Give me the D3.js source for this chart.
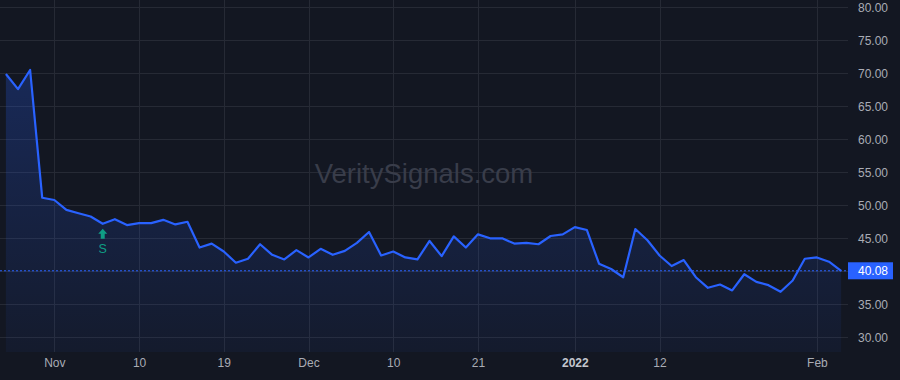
<!DOCTYPE html>
<html>
<head>
<meta charset="utf-8">
<script src="https://cdn.jsdelivr.net/npm/d3@7"></script>
<style>
html,body{margin:0;padding:0;background:#131722;}
svg{display:block;}
</style>
</head>
<body>
<svg id="chart" width="900" height="380"></svg>
<script>
const dates = [
"2021-10-26","2021-10-27","2021-10-28","2021-10-29",
"2021-11-01","2021-11-02","2021-11-03","2021-11-04","2021-11-05","2021-11-08","2021-11-09","2021-11-10","2021-11-11","2021-11-12","2021-11-15","2021-11-16","2021-11-17","2021-11-18","2021-11-19","2021-11-22","2021-11-23","2021-11-24","2021-11-26","2021-11-29","2021-11-30",
"2021-12-01","2021-12-02","2021-12-03","2021-12-06","2021-12-07","2021-12-08","2021-12-09","2021-12-10","2021-12-13","2021-12-14","2021-12-15","2021-12-16","2021-12-17","2021-12-20","2021-12-21","2021-12-22","2021-12-23","2021-12-27","2021-12-28","2021-12-29","2021-12-30","2021-12-31",
"2022-01-03","2022-01-04","2022-01-05","2022-01-06","2022-01-07","2022-01-10","2022-01-11","2022-01-12","2022-01-13","2022-01-14","2022-01-18","2022-01-19","2022-01-20","2022-01-21","2022-01-24","2022-01-25","2022-01-26","2022-01-27","2022-01-28","2022-01-31",
"2022-02-01","2022-02-02","2022-02-03"
];
const values = [
69.9,67.6,70.5,51.15,
50.8,49.3,48.8,48.3,47.2,47.9,47.0,47.3,47.3,47.8,47.1,47.5,43.6,44.2,43.0,41.3,41.9,44.1,42.5,41.8,43.2,
42.1,43.4,42.5,43.1,44.3,45.95,42.4,43.0,42.1,41.8,44.6,42.3,45.3,43.6,45.6,45.0,45.0,44.2,44.3,44.1,45.35,45.6,
46.7,46.25,41.15,40.35,39.1,46.4,44.7,42.4,40.8,41.7,39.1,37.5,38.0,37.1,39.55,38.4,37.9,36.9,38.6,41.9,
42.1,41.45,40.08
];
const tickDates = ["2021-11-01","2021-11-10","2021-11-19","2021-12-01","2021-12-10","2021-12-21","2022-01-03","2022-01-12","2022-02-01"];
const tickLabels = ["Nov","10","19","Dec","10","21","2022","12","Feb"];
const boldTicks = ["2022"];
const yTicks = [30,35,40,45,50,55,60,65,70,75,80];
const signalDates = ["2021-11-05"];
const signalLabels = ["S"];
const lastValue = 40.08;
const watermark = "VeritySignals.com";

const W = 900, H = 380;
const plotRight = 848, plotBottom = 352;
const svg = d3.select("#chart");
const font = "'Liberation Sans', Arial, sans-serif";

const x = d3.scalePoint().domain(dates).range([5.9, 841.1]);
const y = d3.scaleLinear().domain([30, 80]).range([337.3, 7.3]);

const defs = svg.append("defs");
const grad = defs.append("linearGradient").attr("id","areaGrad")
  .attr("gradientUnits","userSpaceOnUse").attr("x1",0).attr("y1",60).attr("x2",0).attr("y2",plotBottom);
grad.append("stop").attr("offset","0%").attr("stop-color","#2962ff").attr("stop-opacity",0.25);
grad.append("stop").attr("offset","100%").attr("stop-color","#2962ff").attr("stop-opacity",0.05);

// grid
const g = svg.append("g");
g.selectAll("line.h").data(yTicks).enter().append("line")
  .attr("x1",0).attr("x2",plotRight)
  .attr("y1",d=>Math.round(y(d))+0.5).attr("y2",d=>Math.round(y(d))+0.5)
  .attr("stroke","#262a35").attr("stroke-width",1);
g.selectAll("line.v").data(tickDates).enter().append("line")
  .attr("y1",0).attr("y2",plotBottom)
  .attr("x1",d=>Math.round(x(d))+0.5).attr("x2",d=>Math.round(x(d))+0.5)
  .attr("stroke","#262a35").attr("stroke-width",1);

// watermark
svg.append("text").attr("x",424).attr("y",183).attr("text-anchor","middle")
  .attr("font-family",font).attr("font-size",27.5).attr("fill","#393d4a").text(watermark);

// area + line
const data = dates.map((d,i)=>({d, v: values[i]}));
svg.append("path").datum(data)
  .attr("d", d3.area().x(p=>x(p.d)).y0(plotBottom).y1(p=>y(p.v)))
  .attr("fill","url(#areaGrad)");
svg.append("path").datum(data)
  .attr("d", d3.line().x(p=>x(p.d)).y(p=>y(p.v)))
  .attr("fill","none").attr("stroke","#2962ff").attr("stroke-width",2.2).attr("stroke-linejoin","round");

// last value dashed line
svg.append("line").attr("x1",0).attr("x2",plotRight)
  .attr("y1",y(lastValue)).attr("y2",y(lastValue))
  .attr("stroke","#2962ff").attr("stroke-width",1).attr("stroke-dasharray","2,2");

// signal markers
signalDates.forEach((sd,i)=>{
  const v = values[dates.indexOf(sd)];
  const cx = x(sd), top = y(v) + 5;
  svg.append("path")
    .attr("d", `M${cx},${top} L${cx+4.5},${top+5} L${cx+2},${top+5} L${cx+2},${top+10} L${cx-2},${top+10} L${cx-2},${top+5} L${cx-4.5},${top+5} Z`)
    .attr("fill","#0f9d84");
  svg.append("text").attr("x",cx).attr("y",top+24.5).attr("text-anchor","middle")
    .attr("font-family",font).attr("font-size",12.5).attr("fill","#0f9d84").text(signalLabels[i]);
});

// y axis
const yAxis = d3.axisRight(y).tickValues(yTicks).tickFormat(d3.format(".2f")).tickSize(0).tickPadding(0);
const ya = svg.append("g").attr("transform",`translate(858,0)`).call(yAxis);
ya.select(".domain").remove();
ya.selectAll("text").attr("font-family",font).attr("font-size",12).attr("fill","#a9acb5");

// x axis
const xAxis = d3.axisBottom(x).tickValues(tickDates).tickFormat((d,i)=>tickLabels[i]).tickSize(0).tickPadding(0);
const xa = svg.append("g").attr("transform",`translate(0,358)`).call(xAxis);
xa.select(".domain").remove();
xa.selectAll("text").attr("font-family",font).attr("font-size",12)
  .attr("fill",(d,i)=>boldTicks.includes(tickLabels[i])?"#c3c6ce":"#a9acb5")
  .attr("font-weight",(d,i)=>boldTicks.includes(tickLabels[i])?"bold":"normal");

// last value label
const ly = y(lastValue);
svg.append("rect").attr("x",plotRight).attr("y",ly-8.5).attr("width",45).attr("height",17).attr("fill","#2962ff");
svg.append("text").attr("x",858).attr("y",ly+4.5).attr("font-family",font).attr("font-size",12)
  .attr("fill","#ffffff").text(d3.format(".2f")(lastValue));
</script>
</body>
</html>
